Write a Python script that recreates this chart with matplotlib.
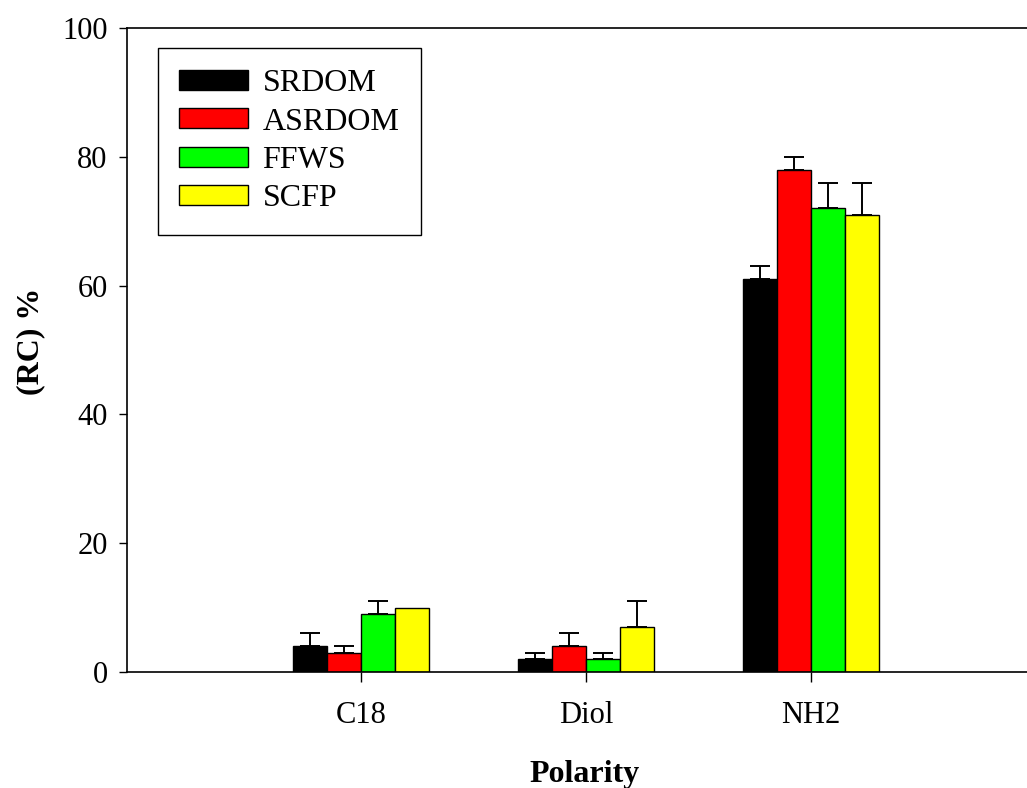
import numpy as np
import matplotlib
matplotlib.use('Agg')
from matplotlib import pyplot as plt

categories = ['C18', 'Diol', 'NH2']
series = ['SRDOM', 'ASRDOM', 'FFWS', 'SCFP']
colors = ['#000000', '#ff0000', '#00ff00', '#ffff00']

srdom = [4, 2, 61]
asrdom = [3, 4, 78]
ffws = [9, 2, 72]
scfp = [10, 7, 71]

srdom_err = [2, 1, 2]
asrdom_err = [1, 2, 2]
ffws_err = [2, 1, 4]
scfp_err = [0, 4, 5]

plt.rcParams['font.family'] = ['Liberation Serif', 'DejaVu Serif']

fig = plt.figure(figsize=(10.27, 7.88), dpi=100)
ax = fig.add_axes([127/1027., 1-672/788., 1-127/1027., (672-28)/788.])

x = np.arange(len(categories))
w = 0.151
vals = [srdom, asrdom, ffws, scfp]
errs = [srdom_err, asrdom_err, ffws_err, scfp_err]
for i, (v, e) in enumerate(zip(vals, errs)):
    xi = x + (i-1.5)*w
    ax.bar(xi, v, w, color=colors[i], edgecolor='black', linewidth=1.0,
           label=series[i], zorder=2)
    v = np.array(v); e = np.array(e)
    m = e > 0
    ax.errorbar(xi[m], v[m], yerr=[np.zeros(m.sum()), e[m]], fmt='none',
                ecolor='black', elinewidth=1.4, capsize=7.2, capthick=1.4,
                zorder=3)

ax.set_xlim(-1.04, 2.96)
ax.set_ylim(0, 100)
ax.set_yticks([0, 20, 40, 60, 80, 100])
ax.set_xticks(x)
ax.set_xticklabels(categories)
ax.spines['right'].set_visible(False)
for s in ['left', 'bottom', 'top']:
    ax.spines[s].set_linewidth(1.2)
ax.tick_params(axis='y', direction='out', length=6, width=1.0,
               labelsize=22, pad=8)
ax.tick_params(axis='x', direction='out', length=7, width=1.0,
               labelsize=22, pad=14)

ax.set_xlabel('Polarity', fontsize=23, fontweight='bold')
ax.set_ylabel('(RC) %', fontsize=23, fontweight='bold')
ax.xaxis.set_label_coords(0.5 + 8/900., -88/644.)
ax.yaxis.set_label_coords(-82/900., 0.514)

leg = ax.legend(loc='upper left', bbox_to_anchor=(158/1027., 1-48/788.),
                bbox_transform=fig.transFigure, fontsize=23,
                fancybox=False, edgecolor='black', framealpha=1,
                handlelength=2.15, handleheight=0.58, handletextpad=0.45,
                labelspacing=0.29, borderpad=0.67, borderaxespad=0)
leg.get_frame().set_linewidth(1.0)

fig.savefig('out.png', dpi=100)
